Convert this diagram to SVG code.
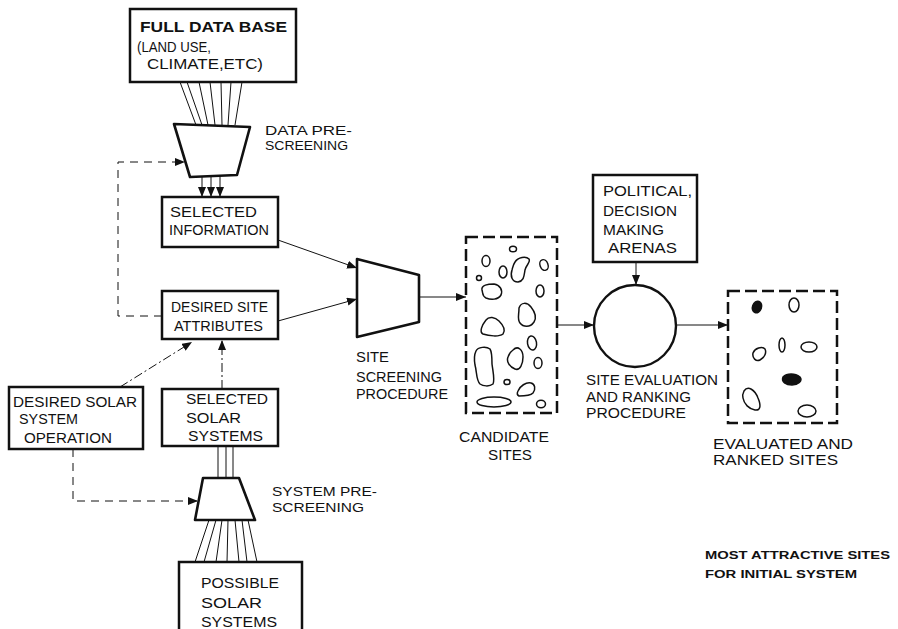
<svg xmlns="http://www.w3.org/2000/svg" width="898" height="629" viewBox="0 0 898 629">
<style>
text{font-family:"Liberation Sans",Arial,sans-serif;font-size:15px;fill:#111;}
.b{font-weight:bold;}
.lab{font-size:13px;}
.sm{font-size:11.5px;font-weight:bold;}
.box{fill:#fff;stroke:#111;stroke-width:2.5;}
.thick{fill:#fff;stroke:#111;stroke-width:2.6;stroke-linejoin:round;}
.dbox{fill:none;stroke:#111;stroke-width:2.5;stroke-dasharray:12 5;}
.blob{fill:none;stroke:#111;stroke-width:1.5;}
.fill{fill:#111;stroke:#111;stroke-width:1.5;}
.ln{fill:none;stroke:#111;stroke-width:1;}
.dash{fill:none;stroke:#111;stroke-width:1;stroke-dasharray:8 6;}
.dd{fill:none;stroke:#111;stroke-width:1;stroke-dasharray:9 3 2 3;}
</style>
<defs>
<marker id="ah" markerUnits="userSpaceOnUse" markerWidth="10" markerHeight="8" refX="10" refY="4" orient="auto">
<path d="M0,0 L10,4 L0,8 z" fill="#111"/>
</marker>
</defs>

<g id="connectors">
<path class="ln" d="M180,82 L196,125 M187,82 L202,125 M199,82 L208,125 M210,82 L215,125 M221,82 L222,125 M231,82 L228,125 M242,82 L235,125"/>
<path class="ln" d="M202,176 L202,197" marker-end="url(#ah)"/>
<path class="ln" d="M211,176 L211,197" marker-end="url(#ah)"/>
<path class="ln" d="M220,175 L220,197" marker-end="url(#ah)"/>
<path class="dash" d="M162,316 H118 V162 H185" marker-end="url(#ah)"/>
<path class="ln" d="M278,240 L357,268" marker-end="url(#ah)"/>
<path class="ln" d="M278,321 L357,299" marker-end="url(#ah)"/>
<path class="ln" d="M420,297 L466,297" marker-end="url(#ah)"/>
<path class="ln" d="M557,325 L594,325" marker-end="url(#ah)"/>
<path class="ln" d="M636,262 L636,285" marker-end="url(#ah)"/>
<path class="ln" d="M677,325 L728,325" marker-end="url(#ah)"/>
<path class="dd" d="M120,387 L192,342" marker-end="url(#ah)"/>
<path class="dd" d="M222,389 L222,340" marker-end="url(#ah)"/>
<path class="ln" d="M218,446 L218,478 M226,446 L226,478 M233,446 L233,478"/>
<path class="dash" d="M73,449 V501 H198" marker-end="url(#ah)"/>
<path class="ln" d="M209,520 L195,562 M216,520 L204,562 M222,520 L216,562 M228,520 L227,562 M235,520 L239,562 M242,520 L247,562 M248,520 L257,562"/>
</g>

<g id="full-data-base">
<rect class="box" x="130" y="9" width="166" height="73"/>
<text class="b" x="140" y="32" textLength="147" lengthAdjust="spacingAndGlyphs">FULL DATA BASE</text>
<text x="137" y="52" textLength="74" lengthAdjust="spacingAndGlyphs">(LAND USE,</text>
<text x="147" y="69" textLength="116" lengthAdjust="spacingAndGlyphs">CLIMATE,ETC)</text>
</g>

<g id="data-prescreening">
<polygon class="thick" points="174,124 250,127 237,175 190,177"/>
<text class="lab" x="265" y="135" textLength="87" lengthAdjust="spacingAndGlyphs">DATA PRE-</text>
<text class="lab" x="265" y="150" textLength="83" lengthAdjust="spacingAndGlyphs">SCREENING</text>
</g>

<g id="selected-information">
<rect class="box" x="162" y="197" width="116" height="50"/>
<text x="170" y="217" textLength="87" lengthAdjust="spacingAndGlyphs">SELECTED</text>
<text x="169" y="235" textLength="100" lengthAdjust="spacingAndGlyphs">INFORMATION</text>
</g>

<g id="desired-site-attributes">
<rect class="box" x="162" y="291" width="116" height="48"/>
<text x="171" y="312" textLength="97" lengthAdjust="spacingAndGlyphs">DESIRED SITE</text>
<text x="174" y="331" textLength="89" lengthAdjust="spacingAndGlyphs">ATTRIBUTES</text>
</g>

<g id="desired-solar-system-operation">
<rect class="box" x="9" y="387" width="134" height="62"/>
<text x="13" y="407" textLength="124" lengthAdjust="spacingAndGlyphs">DESIRED SOLAR</text>
<text x="19" y="424" textLength="59" lengthAdjust="spacingAndGlyphs">SYSTEM</text>
<text x="24" y="443" textLength="88" lengthAdjust="spacingAndGlyphs">OPERATION</text>
</g>

<g id="selected-solar-systems">
<rect class="box" x="162" y="389" width="116" height="57"/>
<text x="186" y="404" textLength="82" lengthAdjust="spacingAndGlyphs">SELECTED</text>
<text x="186" y="423" textLength="55" lengthAdjust="spacingAndGlyphs">SOLAR</text>
<text x="188" y="441" textLength="75" lengthAdjust="spacingAndGlyphs">SYSTEMS</text>
</g>

<g id="system-prescreening">
<polygon class="thick" points="203,478 239,478 255,520 195,520"/>
<text class="lab" x="272" y="496" textLength="105" lengthAdjust="spacingAndGlyphs">SYSTEM PRE-</text>
<text class="lab" x="272" y="512" textLength="92" lengthAdjust="spacingAndGlyphs">SCREENING</text>
</g>

<g id="possible-solar-systems">
<rect class="box" x="179" y="562" width="123" height="80"/>
<text x="201" y="588" textLength="78" lengthAdjust="spacingAndGlyphs">POSSIBLE</text>
<text x="201" y="608" textLength="61" lengthAdjust="spacingAndGlyphs">SOLAR</text>
<text x="201" y="627" textLength="76" lengthAdjust="spacingAndGlyphs">SYSTEMS</text>
</g>

<g id="site-screening-procedure">
<polygon class="thick" points="357,259 419,275 419,322 357,337"/>
<text x="356" y="362" textLength="33" lengthAdjust="spacingAndGlyphs">SITE</text>
<text x="356" y="382" textLength="86" lengthAdjust="spacingAndGlyphs">SCREENING</text>
<text x="356" y="399" textLength="92" lengthAdjust="spacingAndGlyphs">PROCEDURE</text>
</g>

<g id="candidate-sites">
<rect class="dbox" x="466" y="237" width="91" height="176"/>
<ellipse class="blob" cx="513" cy="249" rx="3.5" ry="2.8"/>
<ellipse class="blob" cx="486" cy="261" rx="4" ry="5.5"/>
<path class="blob" d="M515,262 C518,257 526,256 529,259 C531,262 526,265 525,270 C524,276 524,281 518,282 C512,282 510,276 512,270 C513,266 513,265 515,262 Z"/>
<ellipse class="blob" cx="503" cy="272" rx="4" ry="6"/>
<ellipse class="blob" cx="544" cy="265" rx="4" ry="5.5" transform="rotate(-20 544 265)"/>
<ellipse class="blob" cx="479" cy="278" rx="2.5" ry="2.5"/>
<path class="blob" d="M482,290 C481,285 488,284 494,284 C500,285 503,290 501,295 C498,300 491,300 486,298 C482,296 483,293 482,290 Z"/>
<ellipse class="blob" cx="540" cy="291" rx="4" ry="6"/>
<path class="blob" d="M519,308 C521,302 527,302 531,307 C535,312 537,317 534,322 C530,328 523,327 520,323 C517,319 519,315 519,308 Z"/>
<path class="blob" d="M486,320 C489,316 495,317 499,321 C503,325 506,330 503,334 C499,337 489,336 483,334 C479,332 482,325 486,320 Z"/>
<ellipse class="blob" cx="532" cy="343" rx="4.5" ry="7" transform="rotate(-10 532 343)"/>
<path class="blob" d="M513,350 C518,345 523,350 523,357 C523,364 520,371 515,369 C510,367 506,362 508,357 C509,354 510,352 513,350 Z"/>
<ellipse class="blob" cx="538" cy="363" rx="4" ry="5.5"/>
<path class="blob" d="M476,351 C478,347 486,346 490,349 C492,352 492,358 492,364 C493,372 495,380 493,384 C489,387 483,386 480,384 C476,380 477,372 475,365 C474,359 474,355 476,351 Z"/>
<ellipse class="blob" cx="507" cy="382" rx="3" ry="2.6"/>
<path class="blob" d="M518,391 C520,386 526,382 531,383 C535,384 536,389 533,393 C530,396 523,396 519,396 C517,395 517,393 518,391 Z"/>
<ellipse class="blob" cx="494" cy="402" rx="17" ry="5"/>
<ellipse class="blob" cx="541" cy="404" rx="4.5" ry="3.8"/>
</g>

<g id="political-decision-making-arenas">
<rect class="box" x="593" y="175" width="104" height="87"/>
<text x="603" y="196" textLength="89" lengthAdjust="spacingAndGlyphs">POLITICAL,</text>
<text x="603" y="216" textLength="74" lengthAdjust="spacingAndGlyphs">DECISION</text>
<text x="603" y="235" textLength="61" lengthAdjust="spacingAndGlyphs">MAKING</text>
<text x="608" y="253" textLength="69" lengthAdjust="spacingAndGlyphs">ARENAS</text>
</g>

<g id="site-evaluation-and-ranking">
<circle cx="635" cy="326" r="41" fill="#fff" stroke="#111" stroke-width="2.4"/>
<text x="586" y="385" textLength="132" lengthAdjust="spacingAndGlyphs">SITE EVALUATION</text>
<text x="586" y="402" textLength="105" lengthAdjust="spacingAndGlyphs">AND RANKING</text>
<text x="586" y="418" textLength="100" lengthAdjust="spacingAndGlyphs">PROCEDURE</text>
</g>

<g id="evaluated-and-ranked-sites">
<rect class="dbox" x="728" y="291" width="109" height="132"/>
<ellipse class="fill" cx="757" cy="307" rx="4.5" ry="6" transform="rotate(20 757 307)"/>
<ellipse class="blob" cx="794" cy="305" rx="5" ry="7"/>
<path class="blob" d="M753,353 C755,348 762,346 765,349 C767,353 764,358 760,360 C756,362 752,358 753,353 Z"/>
<ellipse class="blob" cx="782" cy="345" rx="3" ry="7"/>
<ellipse class="blob" cx="809" cy="347" rx="8" ry="5"/>
<path class="fill" d="M783,377 C787,373 795,373 800,377 C803,381 798,385 792,385 C786,385 781,382 783,377 Z"/>
<path class="blob" d="M744,391 C748,385 755,390 758,398 C761,405 761,411 755,410 C749,409 744,404 743,398 C742,395 743,393 744,391 Z"/>
<ellipse class="blob" cx="807" cy="411" rx="9" ry="6"/>
<text x="713" y="449" textLength="140" lengthAdjust="spacingAndGlyphs">EVALUATED AND</text>
<text x="713" y="465" textLength="125" lengthAdjust="spacingAndGlyphs">RANKED SITES</text>
</g>

<g id="candidate-label">
<text x="459" y="442" textLength="90" lengthAdjust="spacingAndGlyphs">CANDIDATE</text>
<text x="488" y="460" textLength="44" lengthAdjust="spacingAndGlyphs">SITES</text>
</g>

<g id="note">
<text class="sm" x="705" y="559" textLength="185" lengthAdjust="spacingAndGlyphs">MOST ATTRACTIVE SITES</text>
<text class="sm" x="705" y="578" textLength="152" lengthAdjust="spacingAndGlyphs">FOR INITIAL SYSTEM</text>
</g>
</svg>
